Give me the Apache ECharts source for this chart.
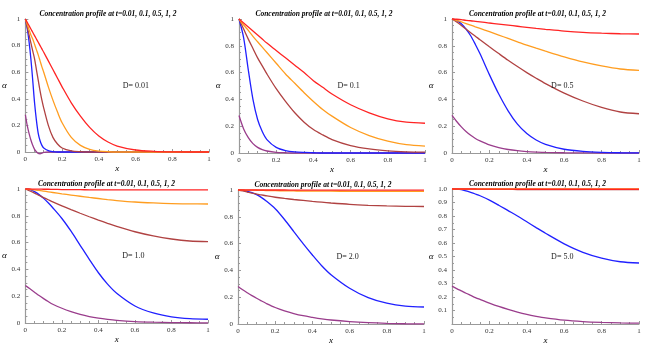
<!DOCTYPE html>
<html>
<head>
<meta charset="utf-8">
<script src="https://cdn.jsdelivr.net/npm/echarts@6/dist/echarts.min.js"></script>
<style>
  html, body { margin: 0; padding: 0; background: #fff; }
  #main { width: 646px; height: 351px; }
</style>
</head>
<body>
<div id="main"></div>
<script>
// x 取样点（第一幅图在 0 附近更密）
var xFine = [0, 0.01, 0.02, 0.03, 0.04, 0.05, 0.06, 0.07, 0.08, 0.09, 0.1, 0.125, 0.15, 0.175, 0.2, 0.25, 0.3, 0.35, 0.4, 0.45, 0.5, 0.6, 0.7, 0.8, 0.9, 1];
var xStd = [0, 0.025, 0.05, 0.075, 0.1, 0.125, 0.15, 0.2, 0.25, 0.3, 0.35, 0.4, 0.45, 0.5, 0.6, 0.7, 0.8, 0.9, 1];

// D = 0.01
var d001Red = [1, 0.975, 0.95, 0.925, 0.9, 0.875, 0.85, 0.825, 0.8, 0.775, 0.75, 0.685, 0.62, 0.555, 0.49, 0.37, 0.27, 0.185, 0.12, 0.075, 0.045, 0.015, 0.005, 0.001, 0, 0];
var d001Orange = [1, 0.96, 0.92, 0.88, 0.85, 0.81, 0.77, 0.73, 0.685, 0.64, 0.6, 0.49, 0.39, 0.3, 0.22, 0.11, 0.05, 0.02, 0.007, 0.002, 0, 0, 0, 0, 0, 0];
var d001Brown = [1, 0.94, 0.88, 0.82, 0.76, 0.7, 0.62, 0.54, 0.46, 0.39, 0.33, 0.2, 0.11, 0.06, 0.03, 0.008, 0.002, 0, 0, 0, 0, 0, 0, 0, 0, 0];
var d001Blue = [1, 0.93, 0.83, 0.7, 0.54, 0.37, 0.24, 0.14, 0.085, 0.05, 0.03, 0.01, 0.003, 0, 0, 0, 0, 0, 0, 0, 0, 0, 0, 0, 0, 0];
var d001Purple = [0.28, 0.2, 0.14, 0.09, 0.05, 0.02, 0.002, -0.01, -0.013, -0.008, -0.003, 0, 0, 0, 0, 0, 0, 0, 0, 0, 0, 0, 0, 0, 0, 0];

// D = 0.1
var d01Red = [1, 0.97, 0.94, 0.91, 0.88, 0.85, 0.82, 0.765, 0.71, 0.655, 0.6, 0.54, 0.49, 0.44, 0.36, 0.3, 0.255, 0.23, 0.222];
var d01Orange = [1, 0.955, 0.915, 0.87, 0.83, 0.79, 0.75, 0.67, 0.59, 0.52, 0.45, 0.385, 0.325, 0.275, 0.19, 0.13, 0.088, 0.062, 0.052];
var d01Brown = [1, 0.925, 0.85, 0.78, 0.71, 0.65, 0.59, 0.48, 0.385, 0.3, 0.23, 0.175, 0.135, 0.1, 0.055, 0.03, 0.016, 0.009, 0.006];
var d01Blue = [1, 0.86, 0.62, 0.4, 0.25, 0.16, 0.1, 0.042, 0.018, 0.008, 0.004, 0.002, 0, 0, 0, 0, 0, 0, 0];
var d01Purple = [0.28, 0.18, 0.115, 0.07, 0.042, 0.025, 0.015, 0.005, 0.002, 0, 0, 0, 0, 0, 0, 0, 0, 0, 0];

// D = 0.5
var d05Red = [1, 0.998, 0.995, 0.99, 0.987, 0.983, 0.979, 0.97, 0.962, 0.954, 0.946, 0.938, 0.93, 0.923, 0.91, 0.9, 0.894, 0.89, 0.888];
var d05Orange = [1, 0.99, 0.978, 0.966, 0.954, 0.942, 0.93, 0.905, 0.88, 0.855, 0.83, 0.805, 0.782, 0.76, 0.718, 0.68, 0.65, 0.627, 0.617];
var d05Brown = [1, 0.978, 0.952, 0.925, 0.898, 0.872, 0.845, 0.793, 0.742, 0.692, 0.645, 0.6, 0.558, 0.518, 0.447, 0.388, 0.34, 0.306, 0.293];
var d05Blue = [1, 0.99, 0.965, 0.925, 0.875, 0.81, 0.74, 0.585, 0.44, 0.315, 0.215, 0.145, 0.097, 0.065, 0.028, 0.012, 0.005, 0.002, 0.001];
var d05Purple = [0.28, 0.235, 0.195, 0.16, 0.132, 0.108, 0.09, 0.06, 0.04, 0.026, 0.017, 0.011, 0.007, 0.004, 0.002, 0.001, 0, 0, 0];

// D = 1.0
var d1Red = [1, 1, 0.999, 0.999, 0.998, 0.998, 0.997, 0.996, 0.995, 0.995, 0.994, 0.994, 0.994, 0.993, 0.993, 0.993, 0.993, 0.993, 0.993];
var d1Orange = [1, 0.997, 0.993, 0.989, 0.984, 0.979, 0.974, 0.964, 0.955, 0.946, 0.937, 0.929, 0.921, 0.914, 0.903, 0.896, 0.891, 0.889, 0.888];
var d1Brown = [1, 0.985, 0.969, 0.952, 0.936, 0.92, 0.904, 0.874, 0.846, 0.819, 0.793, 0.768, 0.744, 0.721, 0.681, 0.65, 0.627, 0.612, 0.607];
var d1Blue = [1, 0.995, 0.98, 0.958, 0.93, 0.897, 0.86, 0.78, 0.685, 0.58, 0.475, 0.375, 0.29, 0.222, 0.127, 0.075, 0.046, 0.032, 0.028];
var d1Purple = [0.28, 0.255, 0.23, 0.205, 0.182, 0.16, 0.14, 0.11, 0.085, 0.064, 0.048, 0.036, 0.027, 0.02, 0.011, 0.006, 0.003, 0.002, 0.001];

// D = 2.0
var d2Red = [1, 1, 1, 1, 1, 1, 1, 1, 1, 0.999, 0.999, 0.999, 0.999, 0.999, 0.999, 0.999, 0.999, 0.999, 0.999];
var d2Orange = [1, 1, 0.999, 0.999, 0.998, 0.997, 0.996, 0.995, 0.994, 0.993, 0.992, 0.992, 0.991, 0.991, 0.99, 0.99, 0.99, 0.99, 0.99];
var d2Brown = [1, 0.993, 0.985, 0.977, 0.97, 0.963, 0.957, 0.946, 0.937, 0.929, 0.922, 0.915, 0.909, 0.903, 0.893, 0.886, 0.881, 0.878, 0.877];
var d2Blue = [1, 0.998, 0.99, 0.98, 0.965, 0.945, 0.92, 0.86, 0.78, 0.69, 0.6, 0.515, 0.435, 0.368, 0.267, 0.197, 0.155, 0.133, 0.127];
var d2Purple = [0.28, 0.255, 0.233, 0.212, 0.192, 0.173, 0.155, 0.123, 0.098, 0.078, 0.062, 0.05, 0.039, 0.03, 0.018, 0.01, 0.005, 0.002, 0.001];

// D = 5.0
var d5Red = [1, 1, 1, 1, 1, 1, 0.999, 0.999, 0.999, 0.999, 0.998, 0.998, 0.998, 0.998, 0.998, 0.998, 0.998, 0.998, 0.998];
var d5Orange = [1, 1, 1, 1, 1, 1, 1, 1, 1, 1, 1, 1, 1, 1, 1, 1, 1, 1, 1];
var d5Brown = [1, 1, 0.999, 0.999, 0.999, 0.998, 0.998, 0.998, 0.997, 0.997, 0.996, 0.996, 0.996, 0.995, 0.995, 0.995, 0.995, 0.995, 0.995];
var d5Blue = [1, 0.999, 0.995, 0.986, 0.975, 0.963, 0.95, 0.918, 0.88, 0.84, 0.8, 0.757, 0.714, 0.672, 0.594, 0.531, 0.488, 0.461, 0.452];
var d5Purple = [0.28, 0.262, 0.245, 0.228, 0.212, 0.196, 0.182, 0.155, 0.13, 0.108, 0.088, 0.071, 0.057, 0.045, 0.028, 0.018, 0.012, 0.008, 0.006];

var dLabels = ["D= 0.01", "D= 0.1", "D= 0.5", "D= 1.0", "D= 2.0", "D= 5.0"];
var titleText = "Concentration profile at t=0.01, 0.1, 0.5, 1, 2";

// 曲线颜色：紫、蓝、棕、橙、红
var colors = ["#9a3d8c", "#2020ff", "#b04242", "#ff9d20", "#ff2424"];

var panels = [
    { xs: xFine, curves: [d001Purple, d001Blue, d001Brown, d001Orange, d001Red] },
    { xs: xStd, curves: [d01Purple, d01Blue, d01Brown, d01Orange, d01Red] },
    { xs: xStd, curves: [d05Purple, d05Blue, d05Brown, d05Orange, d05Red] },
    { xs: xStd, curves: [d1Purple, d1Blue, d1Brown, d1Orange, d1Red] },
    { xs: xStd, curves: [d2Purple, d2Blue, d2Brown, d2Orange, d2Red] },
    { xs: xStd, curves: [d5Purple, d5Blue, d5Brown, d5Orange, d5Red] },
];

// 各子图的位置
var grids = [
    { left: 23, top: 19, width: 186, height: 133 },
    { left: 239, top: 19, width: 186, height: 134 },
    { left: 452, top: 19, width: 187, height: 134 },
    { left: 21, top: 189, width: 187, height: 134 },
    { left: 238, top: 190, width: 186, height: 134 },
    { left: 452, top: 189, width: 187, height: 135 },
];

var serif = "'Liberation Serif', 'DejaVu Serif', serif";
var axisGray = "#9a9a9a";

var myChart = echarts.init(document.getElementById("main"));

var titles = [], xAxes = [], yAxes = [], series = [];

for (var i = 0; i < 6; i++) {
    var g = grids[i];
    titles.push({
        text: titleText,
        left: g.left + g.width / 2 - 13,
        top: g.top - 14,
        textAlign: "center",
        textStyle: { fontFamily: serif, fontSize: 7.5, fontStyle: "italic", fontWeight: "bold", color: "#000" },
    });
    xAxes.push({
        gridIndex: i,
        type: "value",
        min: 0,
        max: 1,
        interval: 0.2,
        name: "x",
        nameLocation: "middle",
        nameGap: 11,
        nameTextStyle: { fontFamily: serif, fontSize: 9, fontStyle: "italic", color: "#000" },
        axisLine: { lineStyle: { color: axisGray, width: 1.2 } },
        axisTick: { inside: true, length: 3, lineStyle: { color: axisGray } },
        minorTick: { show: true, splitNumber: 4, length: 2, lineStyle: { color: axisGray } },
        axisLabel: { fontFamily: serif, fontSize: 7, color: "#333", margin: 4 },
        splitLine: { show: false },
    });
    var isLast = i == 5;
    yAxes.push({
        gridIndex: i,
        type: "value",
        min: 0,
        max: 1,
        interval: isLast ? 0.1 : 0.2,
        name: "α",
        nameLocation: "middle",
        nameRotate: 0,
        nameGap: 17,
        nameTextStyle: { fontFamily: serif, fontSize: 9, fontStyle: "italic", color: "#000" },
        axisLine: { show: true, lineStyle: { color: axisGray, width: 1.2 } },
        axisTick: { show: true, inside: true, length: 3, lineStyle: { color: axisGray } },
        minorTick: { show: true, splitNumber: isLast ? 2 : 4, length: 2, lineStyle: { color: axisGray } },
        axisLabel: {
            fontFamily: serif,
            fontSize: 7,
            color: "#333",
            margin: 5,
            formatter: isLast ? function(v) { return v == 0 ? "" : v.toFixed(1); } : null,
        },
        splitLine: { show: false },
    });
    var p = panels[i];
    for (var k = 0; k < p.curves.length; k++) {
        var ys = p.curves[k];
        var s = {
            type: "line",
            xAxisIndex: i,
            yAxisIndex: i,
            data: p.xs.map(function(x, j) { return [x, ys[j]]; }),
            smooth: 0.3,
            showSymbol: false,
            clip: false,
            lineStyle: { color: colors[k], width: 1.3 },
            itemStyle: { color: colors[k] },
            silent: true,
            animation: false,
        };
        if (k == 0) {
            s.markPoint = {
                symbol: "circle",
                symbolSize: 0,
                silent: true,
                data: [{ coord: [0.53, 0.5] }],
                label: {
                    show: true,
                    position: "inside",
                    align: "left",
                    formatter: dLabels[i],
                    fontFamily: serif,
                    fontSize: 8,
                    color: "#222",
                },
            };
        }
        series.push(s);
    }
}

myChart.setOption({
    animation: false,
    title: titles,
    grid: grids,
    xAxis: xAxes,
    yAxis: yAxes,
    series: series,
});
</script>
</body>
</html>
